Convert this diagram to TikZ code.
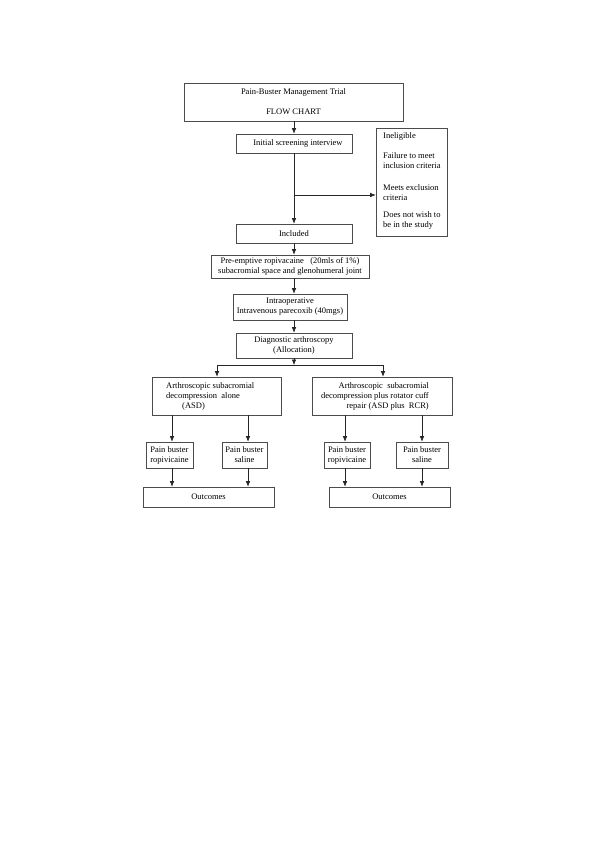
\documentclass[tikz,border=0pt]{standalone}
\usepackage{fontspec}
\setmainfont{Liberation Serif}
\usetikzlibrary{arrows.meta}
\begin{document}
\begin{tikzpicture}[x=1pt,y=-1pt,
 box/.style={draw=black!70, line width=0.6pt, rectangle, inner sep=0pt, font=\fontsize{8.5}{10}\selectfont, align=center},
 arr/.style={draw=black!85, line width=0.6pt, -{Latex[length=5.5pt,width=4.5pt]}},
 ln/.style={draw=black!85, line width=0.6pt}]
\useasboundingbox (0,0) rectangle (600,848);
\fill[white] (0,0) rectangle (600,848);
% boxes
\node[box, minimum width=219pt, minimum height=38pt] (title) at (293.5,102) {Pain-Buster Management Trial\\[10pt]FLOW CHART};
\node[box, minimum width=116pt, minimum height=19pt] (init) at (294,143.5) {\hspace{8pt}Initial screening interview};
\node[box, minimum width=71pt, minimum height=108pt] (inelig) at (411.5,182) {};
\node[font=\fontsize{8.5}{10}\selectfont, align=left, inner sep=0pt, anchor=west] (ineligtxt) at (383,181) {Ineligible\\[10pt]Failure to meet\\inclusion criteria\\[12pt]Meets exclusion\\criteria\\[7pt]Does not wish to\\be in the study};
\node[box, minimum width=116pt, minimum height=19pt] (incl) at (294,233.5) {Included};
\node[box, minimum width=158pt, minimum height=23pt] (pre) at (290,266.5) {Pre-emptive ropivacaine\ \ \ (20mls of 1\%)\\subacromial space and glenohumeral joint};
\node[box, minimum width=114pt, minimum height=26pt] (intra) at (290,307) {Intraoperative\\Intravenous parecoxib (40mgs)};
\node[box, minimum width=116pt, minimum height=25pt] (diag) at (294,345.5) {Diagnostic arthroscopy\\(Allocation)};
\node[box, minimum width=129pt, minimum height=38pt] (lbig) at (216.5,396) {};
\node[font=\fontsize{8.5}{10}\selectfont, align=left, inner sep=0pt, anchor=west] (lbigtxt) at (166,396) {Arthroscopic subacromial\\decompression\ \ alone\\\hspace{16pt}(ASD)};
\node[box, minimum width=140pt, minimum height=38pt] (rbig) at (382,396) {};
\node[font=\fontsize{8.5}{10}\selectfont, align=right, inner sep=0pt, anchor=east] (rbigtxt) at (429,396) {Arthroscopic\ \ subacromial\hspace{6pt}\\decompression plus rotator cuff\\repair (ASD plus\ \ RCR)};
\node[box, minimum width=47pt, minimum height=26pt, align=left] (llp) at (169.5,455) {Pain buster\\ropivicaine};
\node[box, minimum width=45pt, minimum height=26pt] (lrp) at (244.5,455) {Pain buster\\saline};
\node[box, minimum width=46pt, minimum height=26pt] (rlp) at (347,455) {Pain buster\\ropivicaine};
\node[box, minimum width=52pt, minimum height=26pt] (rrp) at (422,455) {Pain buster\\saline};
\node[box, minimum width=131pt, minimum height=20pt] (lout) at (208.5,497) {Outcomes};
\node[box, minimum width=121pt, minimum height=20pt] (rout) at (389.5,497) {Outcomes};
% helper coordinates
\coordinate (xm) at (294,0);
\coordinate (xl) at (217,0);
\coordinate (xr) at (383,0);
\coordinate (xa) at (172,0);
\coordinate (xb) at (248,0);
\coordinate (xc) at (345,0);
\coordinate (xd) at (422,0);
\coordinate (j1) at (294,195);
\coordinate (j2) at (294,365);
% connectors
\draw[arr] (title.south -| xm) -- (init.north -| xm);
\draw[arr] (init.south) -- (incl.north);
\draw[arr] (j1) -- (inelig.west |- j1);
\draw[arr] (incl.south -| xm) -- (pre.north -| xm);
\draw[arr] (pre.south -| xm) -- (intra.north -| xm);
\draw[arr] (intra.south -| xm) -- (diag.north -| xm);
\draw[arr] (diag.south) -- (j2);
\draw[ln] (j2 -| xl) -- (j2 -| xr);
\draw[arr] (j2 -| xl) -- (lbig.north -| xl);
\draw[arr] (j2 -| xr) -- (rbig.north -| xr);
\draw[arr] (lbig.south -| xa) -- (llp.north -| xa);
\draw[arr] (lbig.south -| xb) -- (lrp.north -| xb);
\draw[arr] (rbig.south -| xc) -- (rlp.north -| xc);
\draw[arr] (rbig.south -| xd) -- (rrp.north -| xd);
\draw[arr] (llp.south -| xa) -- (lout.north -| xa);
\draw[arr] (lrp.south -| xb) -- (lout.north -| xb);
\draw[arr] (rlp.south -| xc) -- (rout.north -| xc);
\draw[arr] (rrp.south -| xd) -- (rout.north -| xd);
\end{tikzpicture}
\end{document}
